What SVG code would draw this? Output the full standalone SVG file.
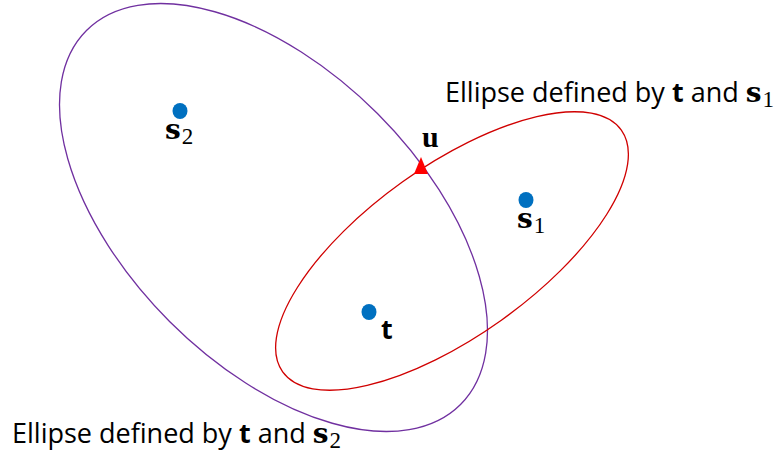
<svg xmlns="http://www.w3.org/2000/svg" width="783" height="452" viewBox="0 0 783 452">
<style>
.lbl{font-family:"Open Sans","Liberation Sans",sans-serif;font-size:27px;fill:#000}
.bt{font-weight:bold}
.m{font-family:"DejaVu Serif","Liberation Serif",serif;font-weight:bold;font-size:28px}
.mu{font-family:"Liberation Serif","DejaVu Serif",serif;font-weight:bold;font-size:30px}
.sub{font-family:"Liberation Serif","DejaVu Serif",serif;font-weight:normal;font-size:23px}
.dot{fill:#0070C0}
.ell{fill:none;stroke-width:1.3}
</style>
<rect width="783" height="452" fill="#fff"/>
<g id="ellipse-t-s2"><ellipse class="ell" cx="273.5" cy="217.5" rx="264.5" ry="147" transform="rotate(45 273.5 217.5)" stroke="#7030A0"/></g>
<g id="ellipse-t-s1"><ellipse class="ell" cx="452" cy="251" rx="208" ry="85" transform="rotate(-35.5 452 251)" stroke="#D00000"/></g>
<g id="connectors"></g>
<g id="point-s2"><ellipse class="dot" cx="180" cy="111" rx="7.5" ry="8"/><text x="165" y="139"><tspan class="m">s</tspan><tspan class="sub" dx="1" dy="5">2</tspan></text></g>
<g id="point-s1"><ellipse class="dot" cx="526" cy="200" rx="7.5" ry="8"/><text x="517" y="228"><tspan class="m">s</tspan><tspan class="sub" dx="1" dy="5">1</tspan></text></g>
<g id="point-t"><ellipse class="dot" cx="369" cy="312" rx="7.5" ry="8"/><text class="lbl bt" x="381" y="339" font-size="31">t</text></g>
<g id="point-u"><polygon points="421,157 414,174 428,174" fill="#FF0000"/><text class="mu" x="422" y="147">u</text></g>
<g id="label-s1"><text class="lbl" x="445" y="102">Ellipse defined by <tspan class="bt">t</tspan> and <tspan class="m">s</tspan><tspan class="sub" dx="1" dy="5">1</tspan></text></g>
<g id="label-s2"><text class="lbl" x="12" y="443">Ellipse defined by <tspan class="bt">t</tspan> and <tspan class="m">s</tspan><tspan class="sub" dx="1" dy="5">2</tspan></text></g>
</svg>
